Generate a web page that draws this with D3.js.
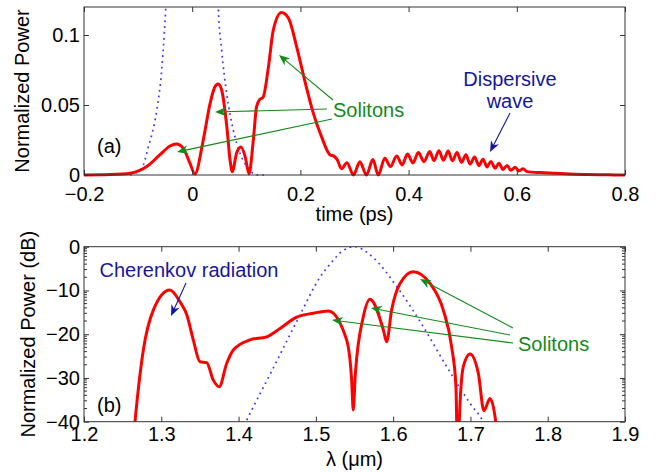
<!DOCTYPE html>
<html>
<head>
<meta charset="utf-8">
<script src="https://cdn.jsdelivr.net/npm/d3@7"></script>
<style>
  body { margin: 0; background: #fff; }
  svg text { font-family: "Liberation Sans", Arial, Helvetica, sans-serif; }
</style>
</head>
<body>
<div id="chart"></div>
<script>
////////////////////////////////////////////////////////////////////////
// Data

// (a) output pulse, time (ps) vs normalized power
let tOut = [-0.2, -0.152, -0.115, -0.084, -0.06, -0.041, -0.029, -0.0165, -0.004, 0.005,
  0.0205, 0.033, 0.042, 0.048, 0.0545, 0.064, 0.070, 0.074, 0.082, 0.090, 0.098, 0.105,
  0.113, 0.119, 0.125, 0.131, 0.141, 0.150, 0.165, 0.178, 0.193, 0.2085, 0.224, 0.239,
  0.255, 0.262, 0.268, 0.276, 0.286, 0.298, 0.310, 0.322, 0.334, 0.344, 0.356, 0.3665,
  0.378, 0.388, 0.398, 0.408, 0.418, 0.4285, 0.439, 0.447, 0.456, 0.4645, 0.473, 0.481,
  0.4895, 0.498, 0.506, 0.5135, 0.522, 0.530, 0.5375, 0.545, 0.552, 0.560, 0.567, 0.5745,
  0.582, 0.589, 0.597, 0.604, 0.6115, 0.619, 0.643, 0.671, 0.698, 0.726, 0.754, 0.78, 0.8];
let pOut = [0, 0.0003, 0.0012, 0.006, 0.0143, 0.0207, 0.0221, 0.019, 0.0083, 0.0008,
  0.025, 0.051, 0.063, 0.065, 0.0607, 0.0345, 0.0107, 0.0024, 0.0155, 0.020, 0.013, 0.0008,
  0.025, 0.0488, 0.054, 0.0555, 0.0774, 0.1036, 0.116, 0.112, 0.0917, 0.0667, 0.044, 0.0274,
  0.0143, 0.0135, 0.011, 0.0045, 0.0088, 0, 0.0095, 0, 0.011, 0, 0.012, 0.006,
  0.0136, 0.0072, 0.015, 0.0085, 0.016, 0.0095, 0.0168, 0.0103, 0.0174, 0.0105, 0.0172, 0.0102,
  0.016, 0.009, 0.0145, 0.0078, 0.0128, 0.0067, 0.0113, 0.0057, 0.0097, 0.0048, 0.0084, 0.004,
  0.0068, 0.0034, 0.0056, 0.0029, 0.0044, 0.0024, 0.0017, 0.0012, 0.0007, 0.0004, 0.0002, 0.00005, 0];

// (a) input pulse (dotted), peak is off the top of the axes
let tIn = [-0.115, -0.0933, -0.0811, -0.0656, -0.0564, -0.0516, -0.049, -0.045, 0,
  0.046, 0.0482, 0.0545, 0.0638, 0.076, 0.0884, 0.1037, 0.1192, 0.135];
let pIn = [0, 0.0048, 0.020, 0.046, 0.075, 0.101, 0.118, 0.15, 1,
  0.15, 0.12, 0.089, 0.058, 0.032, 0.0155, 0.0048, 0, 0];

// (b) output spectrum, wavelength (um) vs dB
let lamOut = [1.262, 1.266, 1.2768, 1.2897, 1.311, 1.3242, 1.3329, 1.3414, 1.350, 1.3587,
  1.3673, 1.375, 1.3846, 1.3932, 1.4148, 1.4364, 1.4536, 1.4752, 1.4967, 1.516, 1.5398,
  1.5463, 1.5484, 1.551, 1.5614, 1.570, 1.5873, 1.5916, 1.598, 1.6089, 1.626, 1.6477,
  1.6649, 1.6757, 1.6813, 1.6822, 1.683, 1.6848, 1.6856, 1.6908, 1.6994, 1.7102, 1.7175,
  1.7253, 1.7327, 1.735];
let dbOut = [-48, -40, -23.6, -14.5, -9.9, -12.6, -15.5, -21.3, -26.3, -26.5,
  -30.5, -32, -26.7, -23.6, -21.3, -20.6, -18.7, -16.1, -15.2, -14.7, -21.3,
  -30.5, -37.3, -29.3, -16, -12, -19, -21.7, -14.5, -8.4, -5.7, -8.4,
  -14.5, -22.9, -32, -40, -50, -50, -40, -27.4, -24.5, -28.9, -37.5,
  -34.7, -40, -48];

// (b) input spectrum (dotted)
let lamIn = [1.404, 1.4126, 1.445, 1.4795, 1.5053, 1.5183, 1.535, 1.55, 1.5743,
  1.6046, 1.639, 1.6692, 1.6994, 1.7166, 1.722];
let dbIn = [-42, -38.9, -27.7, -15.6, -7, -4, -0.9, 0, -2.5,
  -9.1, -18.3, -27.4, -35.8, -40, -42];

let xTicksA = [-0.2, 0, 0.2, 0.4, 0.6, 0.8];
let yTicksA = [0, 0.05, 0.1];
let xTicksB = [1.2, 1.3, 1.4, 1.5, 1.6, 1.7, 1.8, 1.9];
let yTicksB = [-40, -30, -20, -10, 0];

////////////////////////////////////////////////////////////////////////
// Scales and helpers

let width = 660, height = 472;
let left = 84, right = 625;

let xA = d3.scaleLinear().domain([-0.2, 0.8]).range([left, right]);
let yA = d3.scaleLinear().domain([0, 0.12]).range([175, 7]);
let xB = d3.scaleLinear().domain([1.2, 1.9]).range([left, right]);
let yB = d3.scaleLinear().domain([-40, 0]).range([421.7, 246.7]);

let red = "#ff0000", blue = "#3c3cf0", green = "#138a1c", navy = "#16169c";
let fmt = d3.format("~g");

let svg = d3.select("#chart").append("svg")
    .attr("width", width)
    .attr("height", height);

let defs = svg.append("defs");
defs.append("clipPath").attr("id", "clipA").append("rect")
    .attr("x", left).attr("y", 7).attr("width", right - left).attr("height", 170);
defs.append("clipPath").attr("id", "clipB").append("rect")
    .attr("x", left).attr("y", 246.7).attr("width", right - left).attr("height", 175);

function zip(xs, ys) {
  return xs.map((x, i) => [x, ys[i]]);
}

function drawAxes(x, y, xTicks, yTicks, xPad) {
  let [y0, y1] = y.range();
  let g = svg.append("g");
  let styleAxis = a => {
    a.select(".domain").remove();
    a.selectAll(".tick line").attr("stroke", "#333");
    a.selectAll(".tick text").attr("fill", "#000").style("font-size", "20px");
  };
  g.append("g").attr("transform", "translate(0," + y0 + ")")
    .call(d3.axisBottom(x).tickValues(xTicks).tickFormat(fmt).tickSize(-5).tickPadding(xPad))
    .call(styleAxis);
  g.append("g").attr("transform", "translate(0," + y1 + ")")
    .call(d3.axisTop(x).tickValues(xTicks).tickFormat("").tickSize(-5))
    .call(styleAxis);
  g.append("g").attr("transform", "translate(" + left + ",0)")
    .call(d3.axisLeft(y).tickValues(yTicks).tickFormat(fmt).tickSize(-5).tickPadding(4))
    .call(styleAxis);
  g.append("g").attr("transform", "translate(" + right + ",0)")
    .call(d3.axisRight(y).tickValues(yTicks).tickFormat("").tickSize(-5))
    .call(styleAxis);
  return g;
}

function drawBox(x, y) {
  let [y0, y1] = y.range();
  svg.append("rect")
    .attr("x", left).attr("y", y1)
    .attr("width", right - left).attr("height", y0 - y1)
    .attr("fill", "none").attr("stroke", "#333").attr("stroke-width", 1);
}

function drawCurve(x, y, pts, clip, dotted) {
  let line = d3.line().x(d => x(d[0])).y(d => y(d[1])).curve(d3.curveMonotoneX);
  let p = svg.append("path")
    .attr("clip-path", "url(#" + clip + ")")
    .attr("d", line(pts))
    .attr("fill", "none");
  if (dotted) {
    p.attr("stroke", blue).attr("stroke-width", 1.7).attr("stroke-dasharray", "1.8,4");
  } else {
    p.attr("stroke", red).attr("stroke-width", 3).attr("stroke-linejoin", "round");
  }
}

// arrow from tail to tip, with a notched head like MATLAB's annotation arrows
function arrow(tail, tip, color) {
  let dx = tip[0] - tail[0], dy = tip[1] - tail[1];
  let len = Math.sqrt(dx * dx + dy * dy);
  let ux = dx / len, uy = dy / len, nx = -uy, ny = ux;
  let L = 11, W = 4.5;
  let back = [tip[0] - L * ux, tip[1] - L * uy];
  let notch = [tip[0] - 0.7 * L * ux, tip[1] - 0.7 * L * uy];
  svg.append("line")
    .attr("x1", tail[0]).attr("y1", tail[1])
    .attr("x2", notch[0]).attr("y2", notch[1])
    .attr("stroke", color).attr("stroke-width", 1.1);
  svg.append("path")
    .attr("d", "M" + tip + "L" + [back[0] + W * nx, back[1] + W * ny] +
               "L" + notch + "L" + [back[0] - W * nx, back[1] - W * ny] + "Z")
    .attr("fill", color);
}

function label(x, y, txt, color, anchor) {
  svg.append("text")
    .attr("x", x).attr("y", y)
    .attr("text-anchor", anchor || "start")
    .attr("fill", color)
    .style("font-size", "20px")
    .text(txt);
}

////////////////////////////////////////////////////////////////////////
// Panel (a)

drawCurve(xA, yA, zip(tIn, pIn), "clipA", true);
drawCurve(xA, yA, zip(tOut, pOut), "clipA", false);
drawAxes(xA, yA, xTicksA, yTicksA, 12);
drawBox(xA, yA);

label(97, 153, "(a)", "#000");
label(333, 117, "Solitons", green);
arrow([333, 100], [279, 55], green);
arrow([327, 109], [215, 112], green);
arrow([332, 119], [177, 152], green);

label(510, 86, "Dispersive", navy, "middle");
label(510, 108, "wave", navy, "middle");
arrow([510, 113], [490, 152], navy);

svg.append("text")
  .attr("x", (left + right) / 2).attr("y", 221)
  .attr("text-anchor", "middle").style("font-size", "20px")
  .text("time (ps)");
svg.append("text")
  .attr("transform", "translate(29," + yA(0.06) + ") rotate(-90)")
  .attr("text-anchor", "middle").style("font-size", "20px")
  .text("Normalized Power");

////////////////////////////////////////////////////////////////////////
// Panel (b)

drawCurve(xB, yB, zip(lamIn, dbIn), "clipB", true);
drawCurve(xB, yB, zip(lamOut, dbOut), "clipB", false);
drawAxes(xB, yB, xTicksB, yTicksB, 5);

// log-style minor ticks MATLAB puts on the dB axis
let minor = [];
yTicksB.slice(0, -1).forEach(base => {
  for (let k = 2; k <= 9; ++k) minor.push(base + 10 * Math.log10(k));
});
svg.append("g").selectAll("line").data(minor).enter().append("line")
  .attr("x1", left).attr("x2", left + 3)
  .attr("y1", d => yB(d)).attr("y2", d => yB(d))
  .attr("stroke", "#333");
svg.append("g").selectAll("line").data(minor).enter().append("line")
  .attr("x1", right).attr("x2", right - 3)
  .attr("y1", d => yB(d)).attr("y2", d => yB(d))
  .attr("stroke", "#333");
drawBox(xB, yB);

label(97, 412, "(b)", "#000");
label(189, 277, "Cherenkov radiation", navy, "middle");
arrow([186, 283], [171, 316], navy);

label(518, 351, "Solitons", green);
arrow([513, 328], [420, 279], green);
arrow([510, 335], [371, 308], green);
arrow([513, 343], [332, 320], green);

svg.append("text")
  .attr("x", (left + right) / 2).attr("y", 466)
  .attr("text-anchor", "middle").style("font-size", "20px")
  .text("λ (μm)");
svg.append("text")
  .attr("transform", "translate(35," + yB(-20) + ") rotate(-90)")
  .attr("text-anchor", "middle").style("font-size", "20px")
  .text("Normalized Power (dB)");
</script>
</body>
</html>
